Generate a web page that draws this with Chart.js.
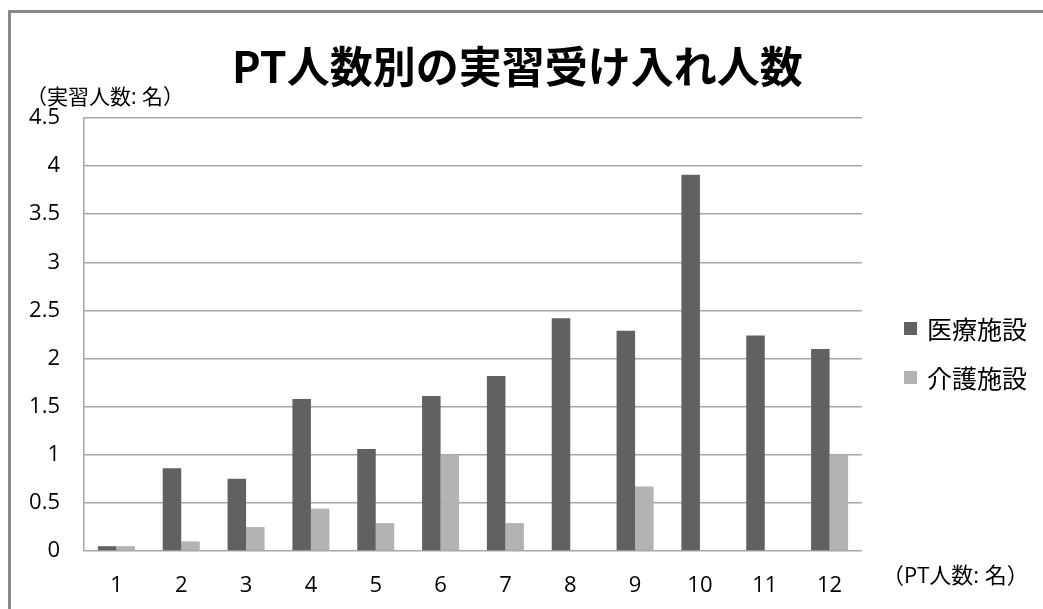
<!DOCTYPE html>
<html lang="ja">
<head>
<meta charset="utf-8">
<title>PT人数別の実習受け入れ人数</title>
<script src="https://cdn.jsdelivr.net/npm/chart.js@4/dist/chart.umd.min.js"></script>
<style>
    html, body { margin: 0; padding: 0; background: #fff; }
    #wrap { width: 1043px; height: 609px; position: relative; }
</style>
</head>
<body>
<div id="wrap"><canvas id="chart" width="1043" height="609"></canvas></div>
<script>
const ptCounts = ['1', '2', '3', '4', '5', '6', '7', '8', '9', '10', '11', '12'];
const medical = [0.05, 0.86, 0.75, 1.58, 1.06, 1.61, 1.82, 2.42, 2.29, 3.91, 2.24, 2.10];
const care = [0.05, 0.10, 0.25, 0.44, 0.29, 1.00, 0.29, 0, 0.67, 0, 0, 1.00];
const seriesNames = ['医療施設', '介護施設'];
const seriesColors = ['#616161', '#b3b3b3'];

const chartTitle = 'PT人数別の実習受け入れ人数';
const yTitle = '（実習人数: 名）';
const xTitle = '（PT人数: 名）';

const FONT = "'Open Sans', 'Noto Sans CJK JP', sans-serif";
const CJK = "'Noto Sans CJK JP', sans-serif";

// frame, titles and the right-hand legend
const decorations = {
    id: 'decorations',
    beforeDraw(chart) {
        const ctx = chart.ctx;
        ctx.save();
        ctx.fillStyle = '#fff';
        ctx.fillRect(0, 0, chart.width, chart.height);
        ctx.strokeStyle = '#888888';
        ctx.lineWidth = 3;
        ctx.strokeRect(9.5, 11.5, chart.width + 20, chart.height + 20);
        ctx.restore();
    },
    afterDraw(chart) {
        const ctx = chart.ctx;
        const area = chart.chartArea;
        ctx.save();
        ctx.fillStyle = '#000';
        ctx.textBaseline = 'middle';
        ctx.textAlign = 'left';

        ctx.font = `bold 43px ${CJK}`;
        ctx.fillText(chartTitle, 232, 67);

        ctx.font = `21px ${FONT}`;
        ctx.fillText(yTitle, 26, 98);
        ctx.font = `22px ${FONT}`;
        ctx.fillText(xTitle, area.right + 20, 577);

        ctx.font = `25px ${CJK}`;
        chart.data.datasets.forEach((ds, i) => {
            const y = 328 + i * 49;
            ctx.fillStyle = ds.backgroundColor;
            ctx.fillRect(904, y - 6, 13, 13);
            ctx.fillStyle = '#000';
            ctx.fillText(ds.label, 927, y + 1);
        });
        ctx.restore();
    }
};

new Chart(document.getElementById('chart'), {
    type: 'bar',
    data: {
        labels: ptCounts,
        datasets: [
            { label: seriesNames[0], data: medical, backgroundColor: seriesColors[0] },
            { label: seriesNames[1], data: care, backgroundColor: seriesColors[1] }
        ]
    },
    options: {
        responsive: false,
        animation: false,
        layout: { padding: { left: 0, top: 118, right: 181, bottom: 0 } },
        datasets: {
            bar: { categoryPercentage: 0.571, barPercentage: 1.0 }
        },
        plugins: {
            legend: { display: false },
            title: { display: false },
            tooltip: { enabled: false }
        },
        scales: {
            x: {
                grid: { display: false },
                border: { display: false },
                ticks: { color: '#000', padding: 14, font: { family: FONT, size: 22 } },
                afterFit(scale) { scale.height = 58; }
            },
            y: {
                min: 0,
                max: 4.5,
                ticks: {
                    stepSize: 0.5,
                    color: '#000',
                    padding: 24,
                    font: { family: FONT, size: 22 },
                    callback: (v) => String(Number(v))
                },
                grid: { color: '#a6a6a6', lineWidth: 1.5, drawTicks: false },
                border: { display: true, color: '#a6a6a6', width: 1.5 },
                afterFit(scale) { scale.width = 84; }
            }
        }
    },
    plugins: [decorations]
});
</script>
</body>
</html>
